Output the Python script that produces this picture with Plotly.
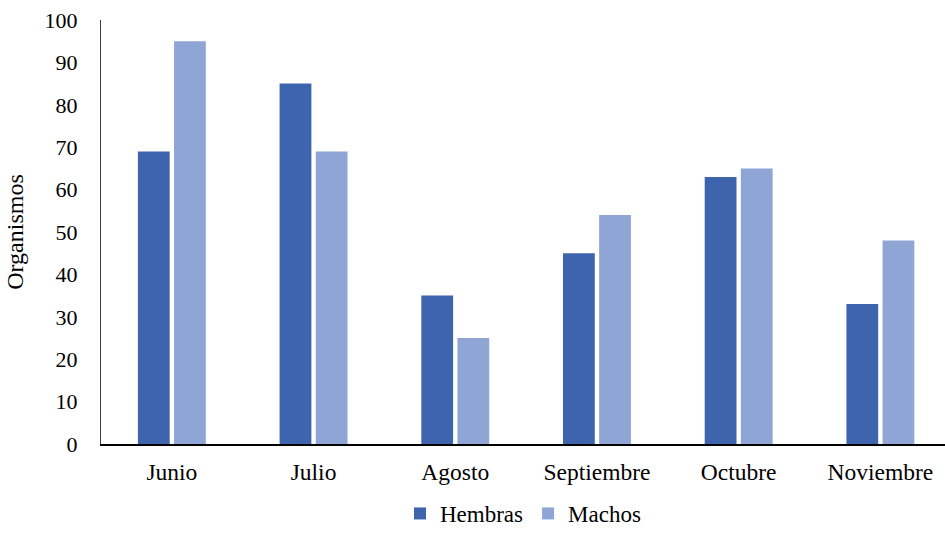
import plotly.graph_objects as go

# Monthly organism counts by sex
meses = ["Junio", "Julio", "Agosto", "Septiembre", "Octubre", "Noviembre"]
hembras = [69, 85, 35, 45, 63, 33]
machos = [95, 69, 25, 54, 65, 48]

FONT = "Liberation Serif, Times New Roman, serif"

fig = go.Figure()
fig.add_trace(go.Bar(name="Hembras", x=meses, y=hembras, marker_color="#3D64AD",
                     marker_line_width=0))
fig.add_trace(go.Bar(name="Machos", x=meses, y=machos, marker_color="#8FA5D6",
                     marker_line_width=0))

fig.update_layout(
    width=945, height=535,
    margin=dict(l=101, r=0, t=20, b=91, autoexpand=False),
    paper_bgcolor="white", plot_bgcolor="white",
    barmode="group", bargap=0.49, bargroupgap=0.12,
    font=dict(family=FONT, size=22, color="#000000"),
    showlegend=True,
    legend=dict(orientation="h", x=0.5, xanchor="center",
                yref="container", y=-0.01, yanchor="bottom",
                font=dict(family=FONT, size=23), itemwidth=30,
                borderwidth=0, traceorder="normal"),
)
fig.update_xaxes(
    type="category", range=[-0.5, 5.456],
    showline=True, linecolor="#000000", linewidth=1.5,
    showgrid=False, ticks="", ticklabelstandoff=6,
    tickfont=dict(family=FONT, size=23.5),
)
fig.update_yaxes(
    range=[0, 100], dtick=10, tick0=0,
    showline=True, linecolor="#404040", linewidth=1,
    showgrid=False, zeroline=False, ticks="", ticklabelstandoff=18,
    tickfont=dict(family=FONT, size=22),
    title=dict(text="Organismos", font=dict(family=FONT, size=24), standoff=14),
)

fig.write_html("out.html")
